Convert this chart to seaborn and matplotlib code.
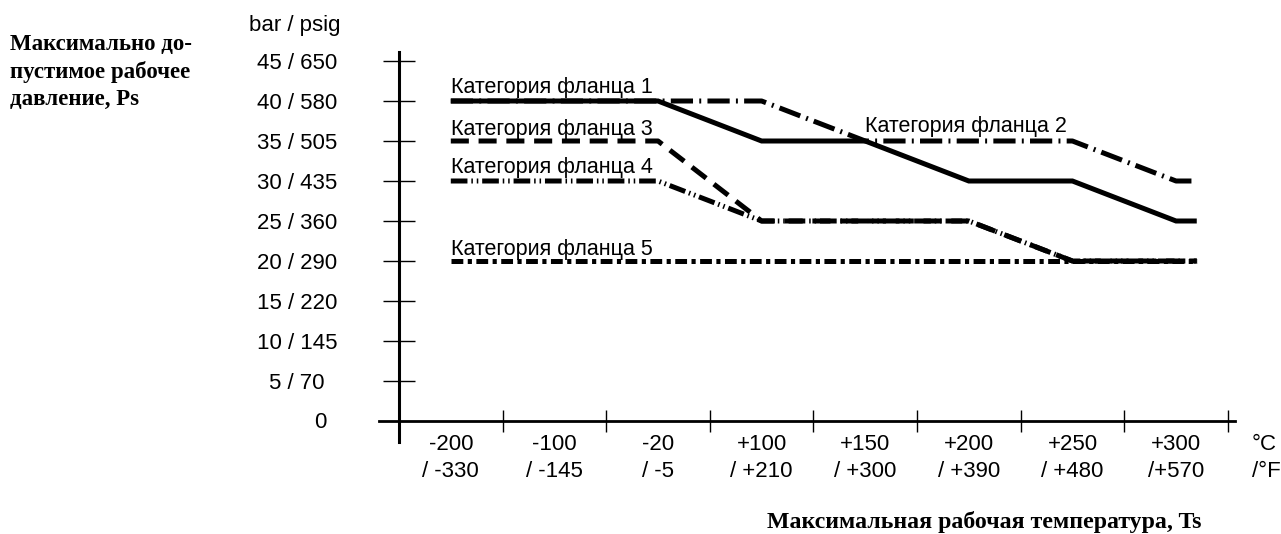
import matplotlib
matplotlib.use("Agg")
import matplotlib.pyplot as plt
import seaborn as sns
import pandas as pd

# Temperature classes: °C on the first row, °F below
temp_c = ["-200", "-100", "-20", "+100", "+150", "+200", "+250", "+300"]
temp_f = ["/ -330", "/ -145", "/ -5", "/ +210", "/ +300", "/ +390", "/ +480", "/+570"]

# Pressure scale: bar / psig
p_bar = [5, 10, 15, 20, 25, 30, 35, 40, 45]
p_psig = [70, 145, 220, 290, 360, 435, 505, 580, 650]

# Maximum allowable working pressure (bar) per temperature class
flange1 = [40, 40, 40, 35, 35, 30, 30, 25]
flange2 = [40, 40, 40, 40, 35, 35, 35, 30]
flange3 = [35, 35, 35, 25, 25, 25, 20, 20]
flange4 = [30, 30, 30, 25, 25, 25, 20, 20]
flange5 = [20, 20, 20, 20, 20, 20, 20, 20]

sns.set_style("white")
plt.rcParams["font.family"] = ["Liberation Sans", "DejaVu Sans"]
plt.rcParams["lines.scale_dashes"] = False

fig = plt.figure(figsize=(12.81, 5.34), dpi=100)
ax = fig.add_axes([0, 0, 1, 1])
ax.set_facecolor("white")

# one column per temperature class; axis sits half a column left of the first class
ax.set_xlim(-4.351, 8.013)
ax.set_ylim(-14.125, 52.625)

TAIL = 0.2  # lines run a little past the last class


def series(values):
    xs = list(range(len(values))) + [len(values) - 1 + TAIL]
    ys = list(values) + [values[-1]]
    return pd.DataFrame({"pos": xs, "bar": ys})


LW = 3.6
styles = [
    (flange2, (0, (16, 4.5, 1.4, 4.5))),
    (flange1, "-"),
    (flange5, (0, (8.5, 3.2, 3.0, 3.2))),
    (flange4, (0, (12, 2.8, 1.1, 2.8, 1.1, 2.8))),
    (flange3, (0, (13, 7))),
]
for vals, ls in styles:
    sns.lineplot(data=series(vals), x="pos", y="bar", ax=ax, color="black",
                 linewidth=LW, linestyle=ls, solid_capstyle="butt",
                 dash_capstyle="butt", solid_joinstyle="miter", legend=False)

ax.set_xlabel("")
ax.set_ylabel("")

# axes crossing at the origin
for side in ["top", "right"]:
    ax.spines[side].set_visible(False)
ax.spines["left"].set_position(("data", -0.5))
ax.spines["left"].set_bounds(-2.6, 46.1)
ax.spines["left"].set_linewidth(2.2)
ax.spines["bottom"].set_position(("data", 0))
ax.spines["bottom"].set_bounds(-0.693, 7.57)
ax.spines["bottom"].set_linewidth(2.0)
for s in ["left", "bottom"]:
    ax.spines[s].set_color("black")

ax.set_yticks(p_bar)
ax.set_yticklabels([])
ax.tick_params(axis="y", direction="inout", length=23, width=1.0, color="black", left=True)
ax.set_xticks([i + 0.5 for i in range(len(temp_c))])
ax.set_xticklabels([])
ax.tick_params(axis="x", direction="inout", length=16, width=1.0, color="black", bottom=True)

num_font = dict(fontsize=16, color="black", va="baseline")
for b, p in zip(p_bar, p_psig):
    ax.text(-1.485, b - 1.05, f"{b} / {p}", ha="center", **num_font)
ax.text(-1.263, -0.85, "0", ha="center", **num_font)
ax.text(-1.505, 48.75, "bar / psig", ha="center", **num_font)

for i, (c, f) in enumerate(zip(temp_c, temp_f)):
    ax.text(i, -3.6, c, ha="center", **num_font)
    ax.text(i, -7.05, f, ha="center", **num_font)
ax.text(7.734, -3.6, "°C", ha="left", **num_font)
ax.text(7.734, -7.05, "/°F", ha="left", **num_font)

lab_font = dict(fontsize=15.5, color="black", va="baseline", ha="left")
ax.text(0, 41.0, "Категория фланца 1", **lab_font)
ax.text(4.0, 36.1, "Категория фланца 2", **lab_font)
ax.text(0, 35.75, "Категория фланца 3", **lab_font)
ax.text(0, 31.0, "Категория фланца 4", **lab_font)
ax.text(0, 20.75, "Категория фланца 5", **lab_font)

serif = ["Liberation Serif", "DejaVu Serif"]
title_lines = ["Максимально до-", "пустимое рабочее", "давление, Ps"]
for line, y in zip(title_lines, [46.375, 42.875, 39.5]):
    ax.text(-4.255, y, line, family=serif, fontweight="bold", fontsize=16.5,
            color="black", ha="left", va="baseline")
ax.text(5.147, -13.375, "Максимальная рабочая температура, Ts", family=serif,
        fontweight="bold", fontsize=17.2, color="black", ha="center", va="baseline")

fig.savefig("out.png", dpi=100, facecolor="white")
